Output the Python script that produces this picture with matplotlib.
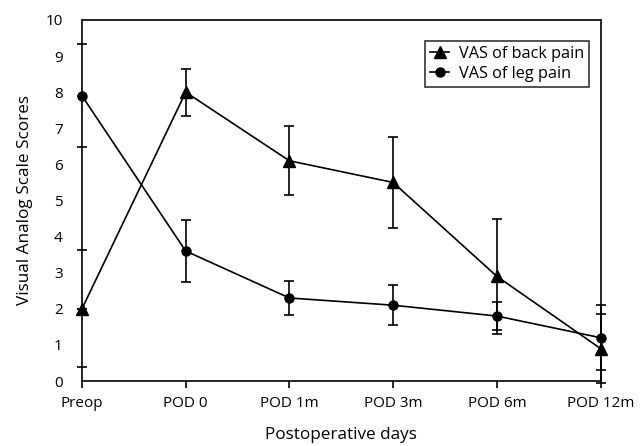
import numpy as np
import matplotlib
matplotlib.use("Agg")
import matplotlib.pyplot as plt

plt.rcParams['font.family'] = ['Open Sans', 'DejaVu Sans']

days = ["Preop", "POD 0", "POD 1m", "POD 3m", "POD 6m", "POD 12m"]
back_mean = [2.0, 8.0, 6.1, 5.5, 2.9, 0.9]
back_err = [0.0, 0.65, 0.95, 1.25, 1.6, 0.95]
leg_mean = [7.9, 3.6, 2.3, 2.1, 1.8, 1.2]
leg_err = [0.0, 0.85, 0.47, 0.55, 0.4, 0.9]
yticks = list(range(0, 11))
odd_ticks = [0.39, 3.63, 6.48, 9.33]

fig = plt.figure(figsize=(6.44, 4.46), dpi=100)
ax = fig.add_axes([0.1273, 0.1457, 0.8052, 0.8095])

x = np.arange(len(days))
ax.errorbar(x, back_mean, yerr=back_err, color='black', marker='^', markersize=8,
            lw=1.2, elinewidth=1.2, capsize=3.5, capthick=1.2, label='VAS of back pain',
            clip_on=False)
ax.errorbar(x, leg_mean, yerr=leg_err, color='black', marker='o', markersize=6.5,
            lw=1.2, elinewidth=1.2, capsize=3.5, capthick=1.2, label='VAS of leg pain',
            clip_on=False)

ax.set_xlim(0, 5)
ax.set_ylim(0, 10)
ax.set_xticks(x)
ax.set_xticklabels(days, fontsize=11)
ax.set_yticks(yticks)
ax.set_yticklabels([str(v) for v in yticks], fontsize=11)
ax.tick_params(axis='y', length=0, pad=14)
ax.set_yticks(odd_ticks, minor=True)
ax.tick_params(axis='y', which='minor', direction='inout', length=7, width=1.2)
ax.tick_params(axis='x', direction='out', length=5, width=1.2, pad=6)
for s in ax.spines.values():
    s.set_linewidth(1.2)

ax.set_ylabel("Visual Analog Scale Scores", fontsize=12.3, labelpad=9)
ax.set_xlabel("Postoperative days", fontsize=12.3, labelpad=11)

handles, labels = ax.get_legend_handles_labels()
handles = [h[0] for h in handles]
leg = ax.legend(handles, labels, loc='upper right', bbox_to_anchor=(0.994, 0.964),
                fontsize=11.7, frameon=True, fancybox=False, edgecolor='black',
                handlelength=1.2, handletextpad=0.6, borderpad=0.3, labelspacing=0.25)
leg.get_frame().set_linewidth(1.2)

fig.savefig("out.png", dpi=100)
